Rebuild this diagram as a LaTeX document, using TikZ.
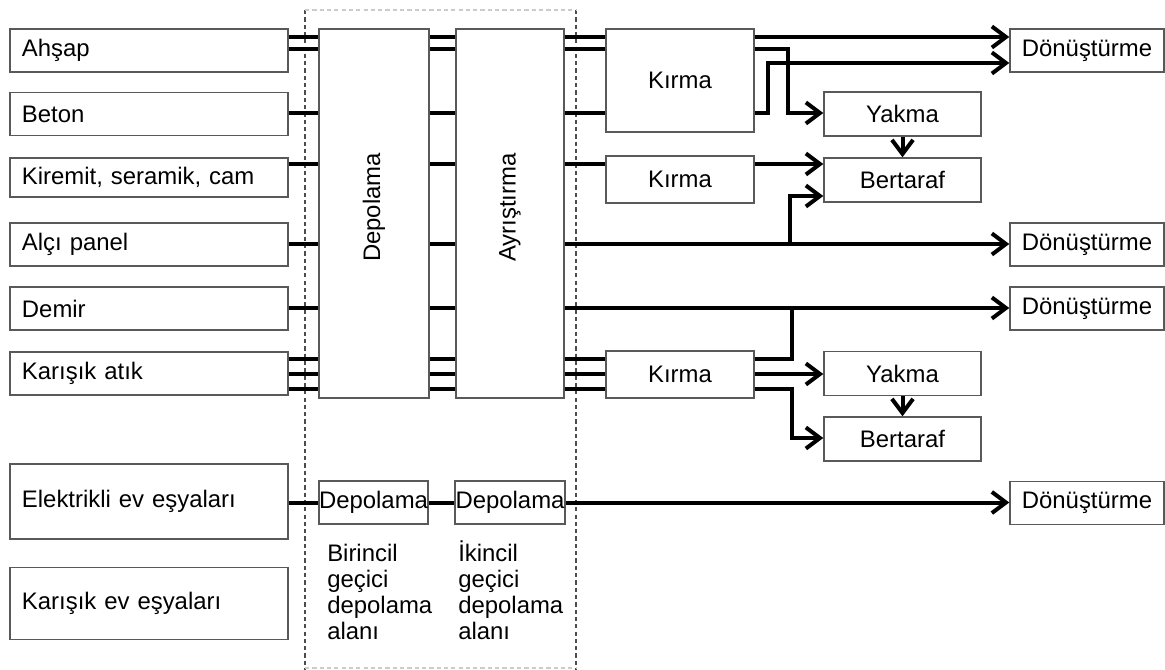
\documentclass[tikz,border=0pt]{standalone}
\usepackage{fontspec}
\setmainfont{Liberation Sans}
\usepackage{graphicx}
\usetikzlibrary{arrows.meta}

\begin{document}
\begin{tikzpicture}[
    x=0.025cm, y=-0.025cm,
    box/.style={rectangle, draw=black!65, line width=1pt, fill=white, inner sep=0pt, font=\fontsize{17}{18.5}\selectfont},
    srcbox/.style={box, text width=6.35cm, inner xsep=0.3cm, align=left, minimum height=1.075cm},
    kbox/.style={box, minimum width=3.7cm, minimum height=1.175cm},
    tbox/.style={box, minimum width=3.925cm, minimum height=1.1cm},
    dbox/.style={box, minimum width=3.85cm, minimum height=1.075cm},
    sbox/.style={box, minimum height=1.075cm},
    note/.style={anchor=north west, align=left, inner sep=0pt, font=\fontsize{17}{18.5}\selectfont},
    link/.style={line width=2.85pt},
    arrow/.style={link, -{Straight Barb[length=10pt, width=15pt]}},
    zone/.style={black!70, line width=0.8pt, dash pattern=on 3pt off 2.2pt}
]
    \useasboundingbox (0,0) rectangle (1165,670);

    % storage zone borders
    \draw[zone] (305,10) -- (305,670);
    \draw[zone] (576,10) -- (576,670);
    \draw[zone, black!20] (305,10) -- (576,10);
    \draw[zone, black!20] (305,668) -- (576,668);

    % waste types
    \node[srcbox] (ahsap) at (149,50.5) {Ahşap};
    \node[srcbox] (beton) at (149,114) {Beton};
    \node[srcbox, minimum height=0.975cm] (kiremit) at (149,177.5) {Kiremit, seramik, cam};
    \node[srcbox] (alci) at (149,244.5) {Alçı panel};
    \node[srcbox] (demir) at (149,308.5) {Demir};
    \node[srcbox] (karisik) at (149,373.5) {Karışık atık};
    \node[srcbox, minimum height=1.875cm] (elek) at (149,501.5) {Elektrikli ev eşyaları};
    \node[srcbox, minimum height=1.8cm] (evkar) at (149,603.5) {Karışık ev eşyaları};

    % storage and sorting
    \node[box, minimum width=2.75cm, minimum height=9.225cm] (depo) at (374,213.5) {\rotatebox{90}{\hspace{0.3cm}Depolama}};
    \node[box, minimum width=2.7cm, minimum height=9.225cm] (ayr) at (510,213.5) {\rotatebox{90}{\hspace{0.3cm}Ayrıştırma}};
    \node[sbox, minimum width=2.725cm] (dep1) at (373.5,502.5) {Depolama};
    \node[sbox, minimum width=2.75cm] (dep2) at (510,502.5) {Depolama};
    \node[note] (cap1) at (327,540) {\vphantom{İ}Birincil\\geçici\\depolama\\alanı};
    \node[note] (cap2) at (458,540) {İkincil\\geçici\\depolama\\alanı};

    % treatment
    \node[kbox, minimum height=2.575cm] (kirma1) at (680,80.5) {Kırma};
    \node[kbox] (kirma2) at (680,179.5) {Kırma};
    \node[kbox] (kirma3) at (680,374.5) {Kırma};
    \node[tbox] (yakma1) at (902.5,114) {Yakma};
    \node[tbox] (bert1) at (902.5,180) {Bertaraf};
    \node[tbox] (yakma2) at (902.5,373.5) {Yakma};
    \node[tbox] (bert2) at (902.5,439) {Bertaraf};
    \node[dbox] (donus1) at (1087,50.5) {Dönüştürme};
    \node[dbox] (donus2) at (1087,244.5) {Dönüştürme};
    \node[dbox] (donus3) at (1087,308.5) {Dönüştürme};
    \node[dbox] (donus4) at (1087,503) {Dönüştürme};

    % rows and bends
    \foreach \y in {37,49,63,113,164,196,244,308,359,374,389,438}
        \coordinate (r\y) at (0,\y);
    \coordinate (jA) at (788,0);
    \coordinate (jB) at (768,0);
    \coordinate (jC) at (790,0);
    \coordinate (jD) at (792,0);

    \foreach \y/\src in {37/ahsap, 49/ahsap, 113/beton, 164/kiremit, 244/alci, 308/demir, 359/karisik, 374/karisik, 389/karisik} {
        \draw[link] (\src.east |- r\y) -- (depo.west |- r\y);
        \draw[link] (depo.east |- r\y) -- (ayr.west |- r\y);
    }
    \foreach \y/\dst in {37/kirma1, 49/kirma1, 113/kirma1, 164/kirma2, 359/kirma3, 374/kirma3, 389/kirma3}
        \draw[link] (ayr.east |- r\y) -- (\dst.west |- r\y);

    \draw[arrow] (kirma1.east |- r37) -- (donus1.west |- r37);
    \draw[arrow] (kirma1.east |- r49) -| (jA |- r113) -- (yakma1.west |- r113);
    \draw[arrow] (kirma1.east |- r113) -| (jB |- r63) -- (donus1.west |- r63);
    \draw[arrow] (kirma2.east |- r164) -- (bert1.west |- r164);
    \draw[arrow] (yakma1) -- (bert1);
    \draw[arrow] (ayr.east |- r244) -- (donus2.west |- r244);
    \draw[arrow] (jC |- r244) |- (bert1.west |- r196);
    \draw[arrow] (ayr.east |- r308) -- (donus3.west |- r308);
    \draw[link] (kirma3.east |- r359) -| (jD |- r308);
    \draw[arrow] (kirma3.east |- r374) -- (yakma2.west |- r374);
    \draw[arrow] (kirma3.east |- r389) -| (jD |- r438) -- (bert2.west |- r438);
    \draw[arrow] (yakma2) -- (bert2);

    \draw[link] (elek.east |- dep1) -- (dep1);
    \draw[link] (dep1) -- (dep2);
    \draw[arrow] (dep2) -- (donus4.west |- dep2);
\end{tikzpicture}
\end{document}
